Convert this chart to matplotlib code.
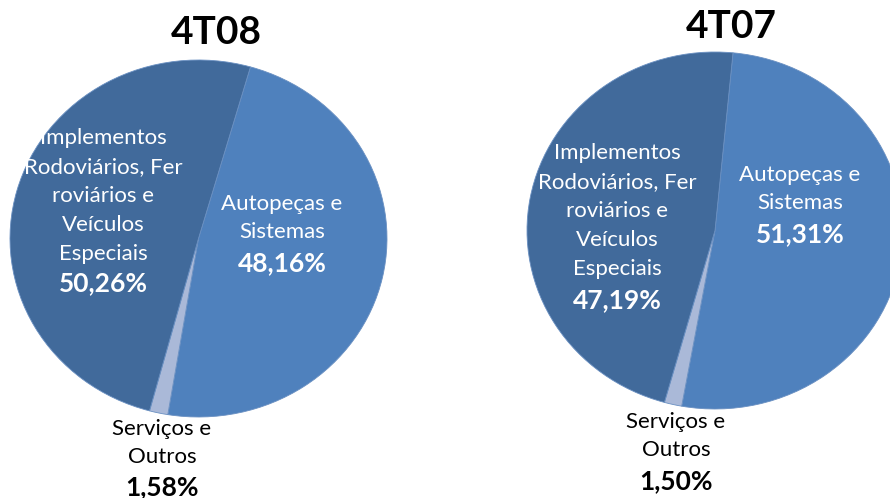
import matplotlib
matplotlib.use('Agg')
import matplotlib.pyplot as plt

# data
categorias = ['Autopeças e\nSistemas', 'Serviços e\nOutros',
              'Implementos\nRodoviários, Fer\nroviários e\nVeículos\nEspeciais']
valores_4t08 = [48.16, 1.58, 50.26]
valores_4t07 = [51.31, 1.50, 47.19]
cores = ['#4F81BD', '#AAB9D8', '#416A9B']

plt.rcParams['font.family'] = ['Lato', 'DejaVu Sans']

fig = plt.figure(figsize=(8.9, 4.98), dpi=100)
W, H = 890, 498


def px_axes(x0, y0, x1, y1):
    # axes from pixel box (top-left origin)
    return fig.add_axes([x0 / W, (H - y1) / H, (x1 - x0) / W, (y1 - y0) / H])


def fmt(v):
    return f'{v:.2f}%'.replace('.', ',')


def desenha_pizza(box, valores, start, titulo, titulo_xy, posicoes):
    ax = px_axes(*box)
    ax.pie(valores, colors=cores, startangle=start, counterclock=False,
           radius=1, wedgeprops=dict(linewidth=0.6, edgecolor='#6A90C2'))
    ax.set_aspect('auto')
    ax.set_xlim(-1, 1)
    ax.set_ylim(-1, 1)
    ax.axis('off')
    fig.text(titulo_xy[0] / W, 1 - titulo_xy[1] / H, titulo, ha='center', va='center',
             fontsize=28, fontweight='bold', color='black')
    for i, (cat, v) in enumerate(zip(categorias, valores)):
        (lx, ly), (vx, vy) = posicoes[i]
        cor = 'black' if i == 1 else 'white'
        fig.text(lx / W, 1 - ly / H, cat, ha='center', va='center', fontsize=16,
                 color=cor, linespacing=1.55)
        fig.text(vx / W, 1 - vy / H, fmt(v), ha='center', va='center', fontsize=19,
                 fontweight='bold', color=cor)


desenha_pizza((10, 60, 387, 417), valores_4t08, 74, '4T08', (216, 33),
              [((282, 218), (282, 263)),
               ((162, 443), (162, 487)),
               ((103, 196), (103, 283))])

desenha_pizza((527, 52, 903, 409), valores_4t07, 84.5, '4T07', (731, 27),
              [((800, 189), (800, 234)),
               ((676, 436), (676, 481)),
               ((617, 211), (617, 300))])

fig.savefig('out.png', dpi=100)
